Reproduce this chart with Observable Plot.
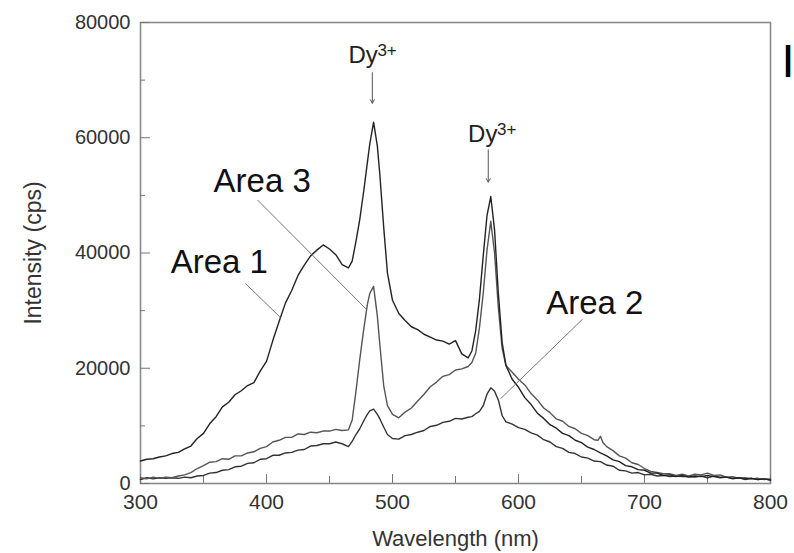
<!DOCTYPE html>
<html>
<head>
<meta charset="utf-8">
<script src="https://cdn.jsdelivr.net/npm/d3@7"></script>
<script src="https://cdn.jsdelivr.net/npm/@observablehq/plot@0.6"></script>
<style>
  html, body { margin: 0; padding: 0; background: #fff; }
  #chart { width: 794px; height: 553px; }
</style>
</head>
<body>
<div id="chart"></div>
<script>
// ---- Data (wavelength nm, intensity cps) ----
const area1 = [[300,3900],[305,4200],[310,4300],[315,4600],[320,4800],[325,5200],[330,5400],[335,6000],[340,6500],[345,7800],[350,8700],[355,10400],[360,11600],[365,13300],[370,14100],[375,15400],[380,16100],[385,17000],[390,17500],[395,19500],[400,21200],[405,24800],[410,28100],[415,31300],[420,33500],[425,36100],[430,37900],[435,39500],[440,40500],[445,41400],[450,40700],[455,39700],[460,38000],[465,37400],[468,38600],[471,42000],[474,45800],[477,50500],[480,55600],[482,59000],[485,62700],[488,58500],[490,53500],[493,44500],[496,36500],[500,31800],[505,29500],[510,28300],[515,27200],[520,26700],[525,25900],[530,25400],[535,24900],[540,24700],[545,24200],[550,24800],[555,22500],[560,21800],[563,23000],[566,26500],[569,32000],[572,39500],[575,46500],[578,49800],[581,44000],[584,33000],[587,24500],[590,20500],[595,18100],[600,16700],[605,14900],[610,13700],[615,12200],[620,11300],[625,10200],[630,9600],[635,8700],[640,8300],[645,7500],[650,7100],[655,6300],[660,5900],[665,5300],[670,4800],[675,4100],[680,3800],[685,3100],[690,2900],[695,2400],[700,2300],[705,1800],[710,1800],[715,1400],[720,1500],[725,1200],[730,1400],[735,1100],[740,1300],[745,1200],[750,1400],[755,1200],[760,1100],[765,1100],[770,900],[775,1000],[780,800],[785,900],[790,700],[795,800],[800,600]];

const area2 = [[300,700],[305,1000],[310,800],[315,1000],[320,900],[325,1000],[330,900],[335,1100],[340,1000],[345,1300],[350,1400],[355,1800],[360,1900],[365,2300],[370,2400],[375,2900],[380,3000],[385,3500],[390,3600],[395,4200],[400,4300],[405,4900],[410,4900],[415,5300],[420,5400],[425,5800],[430,5900],[435,6500],[440,6600],[445,6900],[450,6900],[455,7200],[460,6900],[465,6400],[468,7300],[471,8500],[474,9500],[477,10800],[480,12000],[482,12600],[485,12900],[488,12000],[490,11200],[493,9800],[496,8500],[500,7800],[505,7700],[510,8300],[515,8500],[520,8900],[525,9200],[530,9900],[535,10100],[540,10600],[545,10800],[550,11300],[555,11200],[560,11500],[563,11600],[566,12100],[569,12500],[572,13500],[575,15500],[578,16600],[581,16000],[584,14500],[587,11800],[590,10700],[595,10300],[600,9700],[605,9400],[610,8800],[615,8400],[620,7600],[625,7200],[630,6400],[635,6100],[640,5400],[645,5200],[650,4600],[655,4400],[660,3900],[665,3800],[670,3200],[675,3000],[680,2300],[685,2200],[690,1800],[695,1900],[700,1500],[705,1600],[710,1300],[715,1400],[720,1200],[725,1300],[730,1200],[735,1200],[740,1100],[745,1300],[750,1000],[755,1300],[760,1000],[765,1100],[770,800],[775,1000],[780,700],[785,900],[790,700],[795,800],[800,600]];

const area3 = [[300,1000],[305,800],[310,1100],[315,900],[320,1100],[325,1000],[330,1300],[335,1500],[340,1900],[345,2600],[350,3100],[355,3700],[360,3800],[365,4300],[370,4200],[375,4800],[380,4800],[385,5300],[390,5500],[395,6100],[400,6400],[405,7200],[410,7500],[415,8000],[420,8000],[425,8600],[430,8500],[435,8900],[440,8800],[445,9100],[450,9100],[455,9400],[460,9200],[465,9300],[468,11000],[471,16000],[474,21500],[477,26500],[480,31000],[482,33000],[485,34200],[488,29000],[490,24000],[493,17000],[496,13500],[500,12000],[505,11400],[510,12400],[515,13100],[520,14300],[525,15500],[530,16800],[535,17600],[540,18600],[545,18900],[550,19700],[555,19900],[560,20300],[563,21000],[566,22600],[569,27000],[572,33000],[575,40500],[578,45500],[581,40000],[584,30500],[587,23500],[590,20500],[595,19300],[600,18100],[605,17100],[610,15600],[615,14500],[620,13100],[625,12300],[630,11200],[635,10800],[640,9900],[645,9500],[650,8700],[655,8300],[660,7600],[663,7500],[665,8200],[667,7100],[670,6400],[675,5700],[680,4800],[685,4400],[690,3600],[695,3300],[700,2600],[705,2100],[710,1900],[715,1700],[720,1700],[725,1400],[730,1600],[735,1300],[740,1600],[745,1500],[750,1800],[755,1400],[760,1500],[765,1100],[770,1200],[775,900],[780,1000],[785,800],[790,900],[795,700],[800,800]];

// ---- Ticks ----
const xTicks = [300, 400, 500, 600, 700, 800];
const xMinor = [350, 450, 550, 650, 750];
const yTicks = [0, 20000, 40000, 60000, 80000];
const yMinor = [10000, 30000, 50000, 70000];

// ---- Annotations (in data units) ----
const areaLabels = [
  {text: "Area 1", wl: 324, cps: 36500},
  {text: "Area 3", wl: 358, cps: 50600},
  {text: "Area 2", wl: 622, cps: 29500}
];
const leaders = [
  {wl1: 383.3, cps1: 34700, wl2: 411.1, cps2: 28800},
  {wl1: 392.9, cps1: 49200, wl2: 479.4, cps2: 30200},
  {wl1: 650.8, cps1: 28500, wl2: 585.7, cps2: 14700}
];
const dyLabels = [
  {wl: 465, cps: 73000},
  {wl: 560, cps: 59300}
];
const dyArrows = [
  {wl: 484, cps1: 71300, cps2: 66000},
  {wl: 576, cps1: 57900, cps2: 52300}
];
const cornerMark = [{text: "I", wl: 819, cps: 70500}];

const font = "'Liberation Sans', Arial, Helvetica, sans-serif";
const noLabel = () => "";

const chart = Plot.plot({
  width: 794,
  height: 553,
  marginLeft: 140,
  marginRight: 24,
  marginTop: 22,
  marginBottom: 70,
  x: {domain: [300, 800]},
  y: {domain: [0, 80000]},
  style: {fontFamily: font, background: "#fff", overflow: "visible", color: "#333"},
  marks: [
    Plot.frame({stroke: "#8a8a8a", strokeWidth: 1.6}),
    // tick labels
    Plot.axisX(xTicks, {tickSize: 0, tickPadding: 11, fontSize: 21, fill: "#333", label: null}),
    Plot.axisY(yTicks, {tickSize: 0, tickPadding: 10, fontSize: 20, fill: "#333", label: null, tickFormat: d => String(d)}),
    // inward ticks
    Plot.axisX(xTicks, {tickSize: -9, tickFormat: noLabel, stroke: "#777", label: null}),
    Plot.axisX(xMinor, {tickSize: -7, tickFormat: noLabel, stroke: "#777", label: null}),
    Plot.axisY(yTicks, {tickSize: -10, tickFormat: noLabel, stroke: "#777", label: null}),
    Plot.axisY(yMinor, {tickSize: -5, tickFormat: noLabel, stroke: "#777", label: null}),
    // axis titles
    Plot.text(["Wavelength (nm)"], {frameAnchor: "bottom", dy: 55, lineAnchor: "middle", textAnchor: "middle", fontSize: 22, fill: "#333"}),
    Plot.text(["Intensity (cps)"], {frameAnchor: "left", dx: -107, rotate: -90, lineAnchor: "middle", textAnchor: "middle", fontSize: 23, fill: "#333"}),
    // spectra
    Plot.line(area2, {x: d => d[0], y: d => d[1], stroke: "#333", strokeWidth: 1.4}),
    Plot.line(area3, {x: d => d[0], y: d => d[1], stroke: "#555", strokeWidth: 1.4}),
    Plot.line(area1, {x: d => d[0], y: d => d[1], stroke: "#222", strokeWidth: 1.4}),
    // leader lines
    Plot.link(leaders, {x1: "wl1", y1: "cps1", x2: "wl2", y2: "cps2", stroke: "#777", strokeWidth: 1}),
    Plot.text(areaLabels, {x: "wl", y: "cps", text: "text", textAnchor: "start", lineAnchor: "bottom", fontSize: 33, fill: "#111"}),
    // Dy3+ labels
    Plot.text(dyLabels, {x: "wl", y: "cps", text: () => "Dy", textAnchor: "start", lineAnchor: "bottom", fontSize: 24, fill: "#222"}),
    Plot.text(dyLabels, {x: "wl", y: "cps", text: () => "3+", dx: 29, dy: -7, textAnchor: "start", lineAnchor: "bottom", fontSize: 17, fill: "#222"}),
    Plot.arrow(dyArrows, {x1: "wl", y1: "cps1", x2: "wl", y2: "cps2", stroke: "#555", strokeWidth: 1, headLength: 6}),
    // partial glyph at top-right
    Plot.text(cornerMark, {x: "wl", y: "cps", text: "text", textAnchor: "end", lineAnchor: "bottom", fontSize: 47, fill: "#000"})
  ]
});
document.getElementById("chart").appendChild(chart);
</script>
</body>
</html>
